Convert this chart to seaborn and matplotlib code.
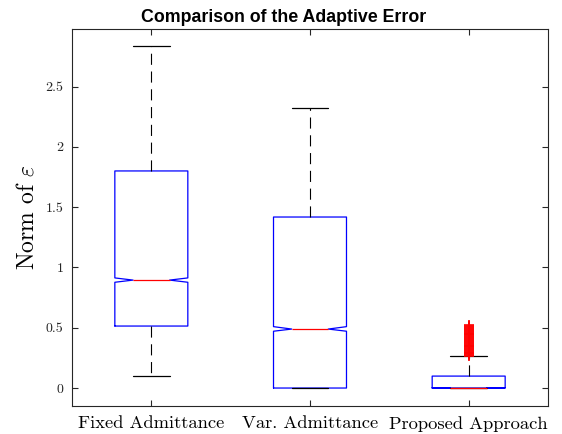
import matplotlib
matplotlib.use("Agg")
import matplotlib.pyplot as plt
import seaborn as sns
import numpy as np

# ---- data ----
categories = ["Fixed Admittance", "Var. Admittance", "Proposed Approach"]
q1 = [0.514, 0.0, 0.0]
median = [0.895, 0.489, 0.002]
q3 = [1.80, 1.418, 0.099]
whisker_low = [0.10, 0.0, 0.0]
whisker_high = [2.84, 2.32, 0.264]
notch_low = [0.877, 0.471, 0.001]
notch_high = [0.913, 0.509, 0.003]
outliers_approach = [0.268, 0.275, 0.281, 0.288, 0.294, 0.301, 0.309, 0.316,
                     0.322, 0.330, 0.337, 0.345, 0.352, 0.360, 0.367, 0.375,
                     0.383, 0.390, 0.398, 0.405, 0.413, 0.421, 0.429, 0.437,
                     0.445, 0.452, 0.460, 0.468, 0.476, 0.484, 0.492, 0.500,
                     0.507, 0.514, 0.522]
yticks = [0, 0.5, 1, 1.5, 2, 2.5]
ytick_labels = ["0", "0.5", "1", "1.5", "2", "2.5"]

sns.set_style("ticks")
plt.rcParams["mathtext.fontset"] = "cm"
plt.rcParams["axes.unicode_minus"] = False

fig = plt.figure(figsize=(5.62, 4.34), dpi=100)
ax = fig.add_axes([72 / 562, 28 / 434, 476 / 562, 377 / 434])

stats = []
for i, name in enumerate(categories):
    stats.append(dict(label=name, q1=q1[i], med=median[i], q3=q3[i],
                      whislo=whisker_low[i], whishi=whisker_high[i],
                      cilo=notch_low[i], cihi=notch_high[i], fliers=[]))

positions = [1, 2, 3]
ax.bxp(stats, positions=positions, widths=0.46, shownotches=True, showfliers=False,
       boxprops=dict(color=(0, 0, 1), linewidth=0.9),
       medianprops=dict(color=(1, 0, 0), linewidth=0.9),
       whiskerprops=dict(color="black", linewidth=0.8, linestyle=(0, (10, 6))),
       capprops=dict(color="black", linewidth=0.9))

sns.scatterplot(x=[3] * len(outliers_approach), y=outliers_approach, ax=ax,
                marker="+", color=(1, 0, 0), s=55, linewidth=1.2, zorder=3,
                legend=False)

ax.set_xlim(0.5, 3.5)
ax.set_ylim(-0.149, 2.977)
ax.set_xticks(positions)
ax.set_xticklabels(categories, fontfamily="cmr10", fontsize=13.3, color="black")
ax.set_yticks(yticks)
ax.set_yticklabels(ytick_labels, fontfamily="cmr10", fontsize=10, color="#262626")
ax.set_ylabel(r"Norm of $\varepsilon$", fontfamily="cmr10", fontsize=17,
              color="black", labelpad=5)
ax.set_xlabel("")

for sp in ax.spines.values():
    sp.set_visible(True)
    sp.set_color("#262626")
    sp.set_linewidth(0.8)
ax.tick_params(direction="in", length=4, width=0.8, color="#262626",
               top=True, right=True)
ax.tick_params(axis="x", pad=7)
ax.tick_params(axis="y", pad=6)

fig.text(284 / 562, 1 - 17 / 434, "Comparison of the Adaptive Error",
         ha="center", va="center", fontsize=12.8, fontweight="bold",
         fontfamily="Liberation Sans", color="black")

fig.savefig("out.png", dpi=100)
